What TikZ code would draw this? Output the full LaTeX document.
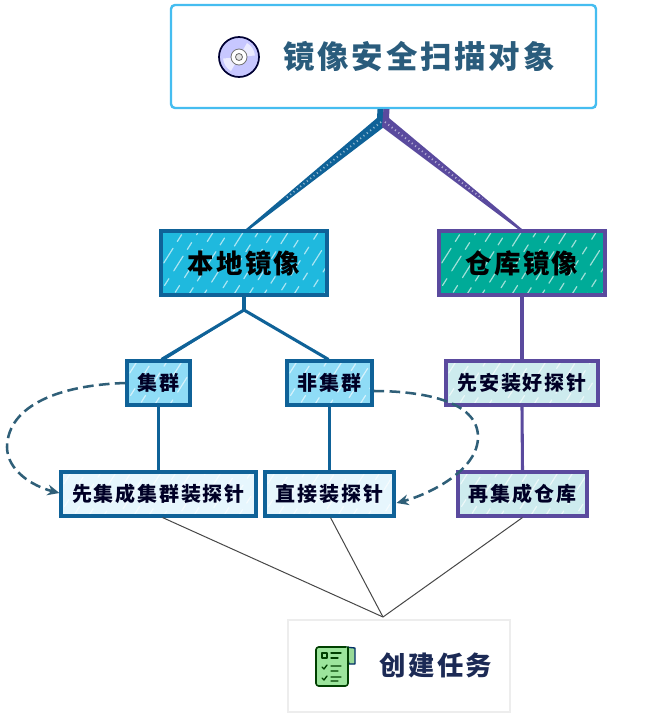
\documentclass[tikz,border=0pt]{standalone}
\usepackage{fontspec}
\setmainfont{Noto Sans CJK SC}
\newfontfamily\cjkwide[LetterSpace=9]{Noto Sans CJK SC}
\usetikzlibrary{calc,arrows.meta}
\definecolor{skyedge}{HTML}{45BDF0}
\definecolor{blueedge}{HTML}{0F6298}
\definecolor{purpleedge}{HTML}{5A4A9E}
\definecolor{cyanfill}{HTML}{1FB9DE}
\definecolor{tealfill}{HTML}{00AB98}
\definecolor{midblue}{HTML}{8FDCF6}
\definecolor{paleblue}{HTML}{E6F6FD}
\definecolor{paleteal}{HTML}{CDEBEE}
\definecolor{titleink}{HTML}{2A5C7C}
\definecolor{dashink}{HTML}{2F5F78}
\definecolor{taskink}{HTML}{1C2A55}
\tikzset{
  x=0.75pt,y=-0.75pt,
  hatch/.style={path picture={
    \foreach \d/\p in {0/0,15/7,30/13,45/3,60/17,75/9,90/1,105/15,120/5,135/11,150/2,165/8,180/14,195/4}{
      \draw[white,opacity=.62,line width=.9pt,line cap=round,dash pattern=on 13pt off 6pt on 6pt off 7pt,dash phase=\p pt]
        ($(path picture bounding box.south west)+(\d-20,4)$) -- ++(48,-76);
    }}},
  cell/.style 2 args={draw,rectangle,minimum width=#1*0.75pt,minimum height=#2*0.75pt,inner sep=0pt,line width=2.3pt,text=black},
  lvlone/.style={hatch,font=\cjkwide\bfseries\fontsize{19.8}{20}\selectfont},
  lvltwo/.style={hatch,font=\cjkwide\bfseries\fontsize{15}{16}\selectfont,text=black!85!blue},
  bluecell/.style={draw=blueedge},
  purplecell/.style={draw=purpleedge},
  conblue/.style={draw=blueedge,line width=2.3pt},
  conpurple/.style={draw=purpleedge,line width=2.3pt},
  conthin/.style={draw=black!72,line width=.75pt},
  condash/.style={draw=dashink,line width=1.9pt,dash pattern=on 8pt off 4pt,-{Stealth[length=9pt,width=8pt]}},
  wedgeticks/.style={white,opacity=.55,line width=1.4pt,dash pattern=on .8pt off 2.4pt},
  iconline/.style={draw=#1,line width=1pt,line cap=round,line join=round},
}
\begin{document}
\begin{tikzpicture}
\useasboundingbox[fill=white] (0,0) rectangle (650,722);

% upper nodes
\node[cell={425}{103},draw=skyedge,rounded corners=3pt,line width=1.8pt,fill=white] (root) at (383.5,56.5) {};
\node[font=\cjkwide\bfseries\fontsize{23.6}{25}\selectfont,text=titleink] (roottext) at (419,57) {镜像安全扫描对象};
\node[cell={166}{64},bluecell,fill=cyanfill,lvlone] (local) at (244,263) {本地镜像};
\node[cell={166}{64},purplecell,fill=tealfill,lvlone] (repo) at (522,263) {仓库镜像};

% hub and tapered branches
\coordinate (hub) at (383,120);
\coordinate (localjoin) at ($(local.north)+(3,0)$);
\coordinate (repojoin) at ($(repo.north)+(-1,0)$);
\fill[blueedge] ($(root.south)+(-6,0)$) -- ($(root.south)+(0,0)$) -- ($(hub)+(1,7)$) -- ($(localjoin)+(2.5,0)$) -- ($(localjoin)+(-1.5,0)$) -- ($(hub)+(-6,-2)$) -- cycle;
\fill[purpleedge] ($(root.south)+(0,0)$) -- ($(root.south)+(6,0)$) -- ($(hub)+(6,-2)$) -- ($(repojoin)+(1.5,0)$) -- ($(repojoin)+(-2.5,0)$) -- ($(hub)+(-1,7)$) -- cycle;
\draw[wedgeticks] ($(hub)+(-2,2)$) -- ($(hub)!.72!(localjoin)$);
\draw[wedgeticks] ($(hub)+(2,2)$) -- ($(hub)!.72!(repojoin)$);

% level 3 and 4 nodes
\node[cell={63}{44},bluecell,fill=midblue,lvltwo] (cluster) at (158.5,383) {集群};
\node[cell={85}{44},bluecell,fill=midblue,lvltwo] (noncluster) at (329.5,383) {非集群};
\node[cell={152}{44},purplecell,fill=paleteal,lvltwo] (probefirst) at (522,383) {先安装好探针};
\node[cell={195}{44},bluecell,fill=paleblue,lvltwo] (integrate) at (158.5,494) {先集成集群装探针};
\node[cell={129}{44},bluecell,fill=paleblue,lvltwo] (direct) at (329.5,494) {直接装探针};
\node[cell={129}{44},purplecell,fill=paleteal,lvltwo] (thenrepo) at (522.5,494) {再集成仓库};
\node[draw=black!7,line width=1.6pt,fill=white,minimum width=166.5pt,minimum height=69pt,inner sep=0pt] (task) at (399,666) {};
\node[font=\cjkwide\bfseries\fontsize{19.8}{20}\selectfont,text=taskink] (tasktext) at (436,665) {创建任务};

% tree connectors
\coordinate (fork) at (244,310);
\draw[conblue] (local.south) -- (fork);
\draw[conblue] (fork) -- ($(cluster.north)+(3,0)$);
\draw[blueedge,line width=1pt] (fork) -- ($(cluster.north)+(6,0)$);
\draw[conblue] (fork) -- ($(noncluster.north)+(-1,0)$);
\draw[conblue] (cluster.south) -- (integrate.north);
\draw[conblue] (noncluster.south) -- (direct.north);
\draw[conpurple] (repo.south) -- (probefirst.north);
\draw[conpurple] (probefirst.south) -- (thenrepo.north);

% task connectors
\coordinate (gather) at (383,617);
\draw[conthin] (integrate.south) ++(4,0) -- (gather);
\draw[conthin] (direct.south) ++(1,0) -- (gather);
\draw[conthin] (thenrepo.south) -- (gather);

% dashed connectors
\draw[condash] (cluster.west) .. controls (60,385) and (8,405) .. (7,447)
  .. controls (7,470) and (32,486) .. ($(integrate.west)+(0,-1)$);
\draw[condash] ($(noncluster.east)+(0,8)$) .. controls (420,391) and (478,400) .. (478,437)
  .. controls (478,470) and (430,494) .. ($(direct.east)+(1,9)$);

% disc icon
\coordinate (disc) at (239,57);
\fill[draw=black!80!blue,line width=1.3pt,fill=blue!22!white] (disc) circle[radius=20];
\fill[blue!8!white] (disc) -- ++(-8,14) arc[start angle=120,end angle=175,radius=16] -- cycle;
\fill[blue!8!white] (disc) -- ++(8,-14) arc[start angle=-60,end angle=-5,radius=16] -- cycle;
\draw[black!55,line width=.6pt,fill=white] (disc) circle[radius=8];
\draw[black!60,line width=.6pt,fill=black!10] (disc) circle[radius=3.5];

% task icon
\coordinate (paper) at (316,647);
\fill[iconline=black!70!green!60!blue,fill=green!30!white!85!black] ($(paper)+(29,0)$) -- ++(10,1) -- ++(0,16) -- ++(-6,0) -- cycle;
\draw[iconline=black!75!green,fill=green!32!white!90!black,line width=1.2pt,rounded corners=2pt] ($(paper)+(30,0)$) -- (paper) -- ++(0,39) -- ++(32,0) -- ++(0,-39);
\draw[iconline=black!75!green] ($(paper)+(6,6)$) rectangle ++(5,5);
\draw[iconline=black!75!green] ($(paper)+(15,6)$) -- ++(10,0) ($(paper)+(15,11)$) -- ++(7,0);
\draw[iconline=black!75!green] ($(paper)+(6,20)$) -- ++(2,2) -- ++(3,-4) ($(paper)+(15,19)$) -- ++(10,0) ($(paper)+(15,24)$) -- ++(7,0);
\draw[iconline=black!75!green] ($(paper)+(6,31)$) -- ++(2,2) -- ++(3,-4) ($(paper)+(15,30)$) -- ++(10,0) ($(paper)+(15,34)$) -- ++(7,0);
\end{tikzpicture}
\end{document}
